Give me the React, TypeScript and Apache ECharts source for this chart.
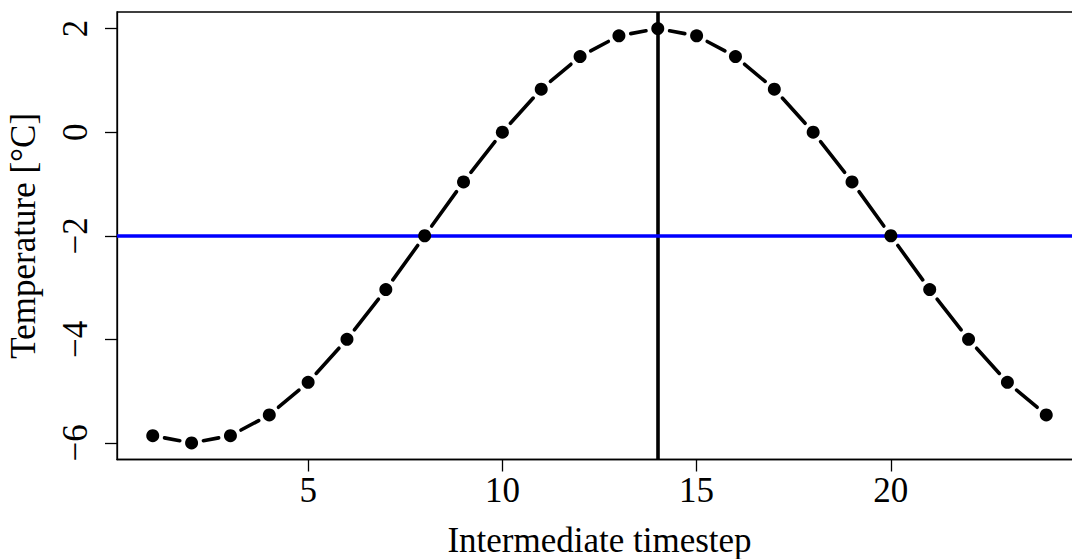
import React, { useEffect, useRef } from "react";
import * as echarts from "echarts";

const hours = [1, 2, 3, 4, 5, 6, 7, 8, 9, 10, 11, 12, 13, 14, 15, 16, 17, 18, 19, 20, 21, 22, 23, 24];
const temps = [-5.86, -6.0, -5.86, -5.46, -4.83, -4.0, -3.04, -2.0, -0.96, 0.0, 0.83, 1.46, 1.86, 2.0, 1.86, 1.46, 0.83, 0.0, -0.96, -2.0, -3.04, -4.0, -4.83, -5.46];
const xTicks = [5, 10, 15, 20];
const yTicks = [-6, -4, -2, 0, 2];
const vLineX = 14;
const hLineY = -2;
const xName = "Intermediate timestep";
const yName = "Temperature [°C]";

const FONT = "'Liberation Serif', 'DejaVu Serif', serif";

export default function App() {
  const ref = useRef<HTMLDivElement>(null);
  useEffect(() => {
    if (!ref.current) return;
    const chart = echarts.init(ref.current, null, { renderer: "svg" });
    const points = hours.map((h, i) => [h, temps[i]]);
    const segs = hours.slice(0, -1).map((h, i) => [h, temps[i], hours[i + 1], temps[i + 1]]);
    const GAP = 12;
    chart.setOption({
      animation: false,
      backgroundColor: "#ffffff",
      grid: {
        left: 117,
        width: 965,
        top: 12,
        bottom: 99.5,
        show: true,
        borderColor: "#000",
        borderWidth: 1.3,
        containLabel: false,
        outerBoundsMode: "none",
      },
      xAxis: {
        type: "value",
        min: 0.08,
        max: 24.92,
        name: xName,
        nameLocation: "middle",
        nameGap: 63,
        nameTextStyle: { fontFamily: FONT, fontSize: 35, color: "#000" },
        axisLine: { show: true, onZero: false, lineStyle: { color: "#000", width: 1.3 } },
        axisTick: { show: true, customValues: xTicks, length: 12, inside: false, lineStyle: { color: "#000", width: 1.3 } },
        axisLabel: { customValues: xTicks, margin: 13, fontFamily: FONT, fontSize: 35, color: "#000" },
        splitLine: { show: false },
      },
      yAxis: {
        type: "value",
        min: -6.32,
        max: 2.32,
        name: yName,
        nameLocation: "middle",
        nameGap: 76,
        nameRotate: 90,
        nameTextStyle: { fontFamily: FONT, fontSize: 35, color: "#000" },
        axisLine: { show: true, onZero: false, lineStyle: { color: "#000", width: 1.3 } },
        axisTick: { show: true, customValues: yTicks, length: 12, inside: false, lineStyle: { color: "#000", width: 1.3 } },
        axisLabel: {
          customValues: yTicks,
          rotate: 90,
          margin: 24,
          fontFamily: FONT,
          fontSize: 35,
          color: "#000",
          formatter: (v: number) => String(v).replace("-", "\u2212"),
        },
        splitLine: { show: false },
      },
      series: [
        {
          type: "custom",
          coordinateSystem: "cartesian2d",
          data: segs,
          encode: { x: [0, 2], y: [1, 3] },
          z: 2,
          renderItem: (params: any, api: any) => {
            const p1 = api.coord([api.value(0), api.value(1)]);
            const p2 = api.coord([api.value(2), api.value(3)]);
            const dx = p2[0] - p1[0];
            const dy = p2[1] - p1[1];
            const len = Math.sqrt(dx * dx + dy * dy);
            if (len <= 2 * GAP) return null;
            const ux = dx / len;
            const uy = dy / len;
            return {
              type: "line",
              shape: {
                x1: p1[0] + ux * GAP,
                y1: p1[1] + uy * GAP,
                x2: p2[0] - ux * GAP,
                y2: p2[1] - uy * GAP,
              },
              style: { stroke: "#000", lineWidth: 3.6, lineCap: "round" },
            };
          },
          markLine: {
            silent: true,
            symbol: ["none", "none"],
            label: { show: false },
            animation: false,
            data: [
              { xAxis: vLineX, lineStyle: { color: "#000", width: 3.6, type: "solid", opacity: 1 } },
              { yAxis: hLineY, lineStyle: { color: "#0000ff", width: 3.6, type: "solid", opacity: 1 } },
            ],
          },
        },
        {
          type: "scatter",
          data: points,
          symbol: "circle",
          symbolSize: 13,
          itemStyle: { color: "#000", opacity: 1 },
          z: 5,
        },
      ],
    });
    return () => chart.dispose();
  }, []);
  return <div ref={ref} style={{ position: "absolute", left: 0, top: 0, width: 1072, height: 559 }} />;
}
